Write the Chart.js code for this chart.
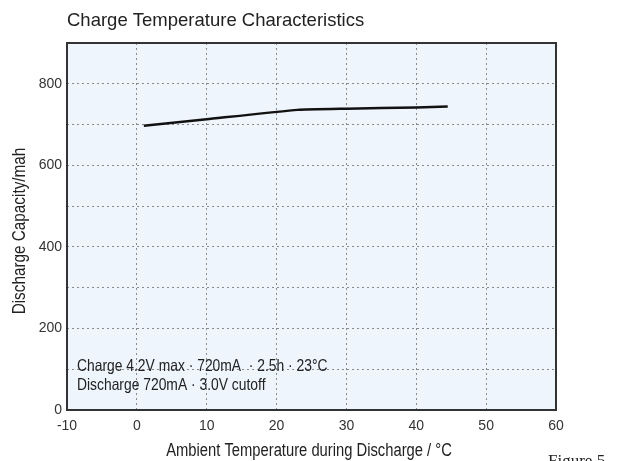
<!DOCTYPE html>
<html>
<head>
<meta charset="utf-8">
<script src="https://cdn.jsdelivr.net/npm/chart.js@4.4.0/dist/chart.umd.min.js"></script>
<style>
  html,body{margin:0;padding:0;background:#fff;}
  #wrap{width:623px;height:461px;position:relative;}
</style>
</head>
<body>
<div id="wrap"><canvas id="c" width="623" height="461"></canvas></div>
<script>
// ambient temperature (°C) and discharge capacity (mAh)
const temps=[1, 10, 23, 30, 40, 44.5];
const capacity=[697, 713, 736, 739, 742, 744];
const xTicks=[-10, 0, 10, 20, 30, 40, 50, 60];
const yLabels=[0, 200, 400, 600, 800];

const chartTitle="Charge Temperature Characteristics";
const xTitle="Ambient Temperature during Discharge / \u00b0C";
const yTitle="Discharge Capacity/mah";
const noteLines=["Charge 4.2V max \u00b7 720mA  \u00b7 2.5h \u00b7 23\u00b0C", "Discharge 720mA \u00b7 3.0V cutoff"];
const figLabel="Figure 5";

const FONT="'Liberation Sans', Arial, sans-serif";

// the original uses a narrow face; squeeze text horizontally instead
function narrowText(ctx,txt,x,y,sx){
  ctx.save();
  ctx.translate(x,y);
  ctx.scale(sx,1);
  ctx.fillText(txt,0,0);
  ctx.restore();
}

const decor={
  id:"decor",
  beforeDraw(chart){
    const {ctx,chartArea:a}=chart;
    ctx.save();
    ctx.fillStyle="#eef5fc";
    ctx.fillRect(a.left,a.top,a.right-a.left,a.bottom-a.top);
    ctx.restore();
  },
  afterDraw(chart){
    const {ctx,chartArea:a}=chart;
    ctx.save();
    ctx.strokeStyle="#333";
    ctx.lineWidth=2;
    ctx.strokeRect(a.left,a.top,a.right-a.left,a.bottom-a.top);

    ctx.fillStyle="#222";
    ctx.textBaseline="alphabetic";
    ctx.font="18.5px "+FONT;
    ctx.textAlign="left";
    ctx.fillText(chartTitle,67,26);

    ctx.font="18px "+FONT;
    ctx.textAlign="center";
    narrowText(ctx,xTitle,309,456,0.82);

    ctx.save();
    ctx.translate(20,231);
    ctx.rotate(-Math.PI/2);
    ctx.font="18px "+FONT;
    ctx.textBaseline="middle";
    narrowText(ctx,yTitle,0,0,0.85);
    ctx.restore();

    ctx.textAlign="left";
    ctx.font="16.5px "+FONT;
    narrowText(ctx,noteLines[0],77,371,0.84);
    narrowText(ctx,noteLines[1],77,390,0.84);

    ctx.font="17px 'Liberation Serif', 'Times New Roman', serif";
    ctx.fillText(figLabel,548,466);
    ctx.restore();
  }
};

new Chart(document.getElementById("c"),{
  type:"line",
  data:{
    datasets:[{
      data:temps.map((t,i)=>({x:t,y:capacity[i]})),
      borderColor:"#111",
      borderWidth:2.5,
      pointRadius:0,
      tension:0.15,
      fill:false
    }]
  },
  options:{
    responsive:false,
    animation:false,
    layout:{padding:{left:0,top:43,right:67,bottom:0}},
    plugins:{legend:{display:false},tooltip:{enabled:false}},
    scales:{
      x:{
        type:"linear",min:-10,max:60,
        afterBuildTicks:s=>{s.ticks=xTicks.map(v=>({value:v}));},
        afterFit:s=>{s.height=51;},
        border:{display:false,dash:[2,3]},
        grid:{color:"#8a8a8a",lineWidth:1,drawTicks:false},
        ticks:{color:"#333",font:{family:FONT,size:14},padding:8,maxRotation:0}
      },
      y:{
        min:0,max:900,
        ticks:{stepSize:100,color:"#333",font:{family:FONT,size:14},padding:5,
          callback:v=>yLabels.includes(v)?v:""},
        afterFit:s=>{s.width=67;},
        border:{display:false,dash:[2,3]},
        grid:{color:"#8a8a8a",lineWidth:1,drawTicks:false}
      }
    }
  },
  plugins:[decor]
});
</script>
</body>
</html>
